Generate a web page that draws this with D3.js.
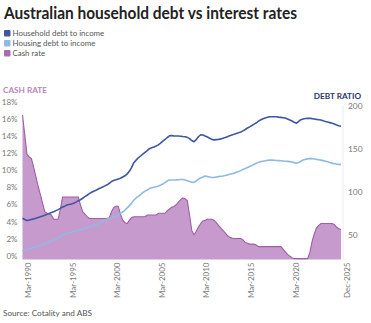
<!DOCTYPE html>
<html>
<head>
<meta charset="utf-8">
<script src="https://cdn.jsdelivr.net/npm/d3@7"></script>
<style>
  html, body { margin: 0; padding: 0; background: #fff; }
  svg { display: block; font-family: Lato, "Open Sans", sans-serif; }
</style>
</head>
<body>
<svg id="chart" width="371" height="323"></svg>
<script>
// Quarterly series, Mar-1990 to Dec-2025
const startYear = 1990;
const quarterMonths = ["Mar", "Jun", "Sep", "Dec"];

// Household debt to disposable income (%)
const householdDebt = [
  74.0, 72.5, 71.3, 71.8, 72.5, 73.2, 74.0, 74.8, 75.6, 76.5,
  77.5, 78.5, 79.6, 80.6, 81.6, 82.8, 84.0, 85.4, 87.0, 88.0,
  89.3, 90.0, 90.6, 91.4, 92.7, 94.1, 95.5, 97.2, 99.0, 100.7,
  102.6, 104.2, 105.4, 106.4, 107.9, 109.1, 110.3, 111.6, 112.8, 114.6,
  116.7, 118.0, 118.6, 119.6, 120.4, 121.9, 123.3, 125.5, 128.5, 133.0,
  138.5, 141.5, 144.2, 146.3, 148.5, 150.5, 152.5, 154.8, 155.9, 156.7,
  157.9, 159.2, 161.2, 163.5, 165.5, 167.8, 169.8, 170.0, 169.6, 169.5,
  169.5, 169.3, 168.9, 168.6, 168.0, 166.5, 164.3, 162.9, 165.4, 168.7,
  171.0, 170.8, 169.5, 168.3, 167.0, 165.6, 165.0, 165.3, 165.6, 166.2,
  166.9, 167.7, 168.8, 169.9, 170.8, 171.6, 172.5, 173.3, 174.2, 175.5,
  177.1, 178.8, 180.2, 181.8, 183.4, 184.9, 186.8, 188.4, 189.5, 190.5,
  191.3, 192.0, 192.0, 192.0, 192.0, 191.5, 191.2, 190.8, 190.4, 189.2,
  188.2, 187.0, 185.6, 184.4, 186.5, 188.5, 189.4, 189.8, 190.0, 190.1,
  189.7, 189.4, 188.9, 188.5, 188.1, 187.2, 186.4, 185.8, 185.1, 184.3,
  183.4, 182.4, 181.5, 180.8
];

// Housing debt to disposable income (%)
const housingDebt = [
  36.0, 36.8, 37.6, 38.6, 39.4, 40.1, 40.8, 41.5, 42.4, 43.4,
  44.4, 45.4, 46.4, 47.6, 48.8, 50.0, 51.3, 52.8, 54.2, 55.4,
  56.5, 57.3, 58.0, 58.7, 59.5, 60.0, 60.6, 61.4, 62.3, 63.2,
  64.1, 65.0, 65.8, 66.6, 67.4, 68.4, 70.3, 71.8, 73.0, 74.0,
  74.8, 75.3, 75.8, 77.5, 79.8, 81.2, 83.5, 86.0, 88.6, 91.5,
  95.0, 97.5, 99.5, 101.5, 103.7, 105.5, 106.8, 108.4, 109.3, 110.0,
  110.6, 111.4, 112.4, 113.8, 115.3, 117.4, 118.4, 118.4, 118.4, 118.5,
  118.7, 119.0, 119.0, 118.4, 117.5, 116.6, 115.8, 115.6, 117.2, 119.5,
  120.8, 121.9, 123.0, 122.5, 121.8, 121.3, 121.3, 121.8, 122.3, 122.7,
  123.1, 123.6, 124.3, 125.0, 125.7, 126.4, 127.3, 128.2, 129.3, 130.6,
  131.7, 132.9, 134.2, 135.3, 136.6, 137.8, 138.9, 139.8, 140.3, 140.8,
  141.2, 141.6, 141.5, 141.3, 141.1, 140.9, 140.7, 140.5, 140.2, 140.0,
  139.8, 139.3, 138.6, 137.9, 138.8, 140.2, 141.6, 142.4, 143.0, 143.5,
  143.3, 142.9, 142.4, 142.0, 141.5, 140.9, 140.2, 139.5, 138.7, 138.0,
  137.4, 136.9, 136.6, 136.3
];

// RBA cash rate (%)
const cashRate = [
  16.9, 14.6, 12.3, 12.0, 11.8, 10.8, 9.7, 8.6, 7.6, 6.6,
  5.6, 5.4, 5.3, 5.2, 4.7, 4.7, 4.7, 5.9, 7.3, 7.3,
  7.3, 7.3, 7.3, 7.3, 7.3, 7.3, 6.4, 5.6, 5.3, 5.0,
  4.8, 4.8, 4.8, 4.8, 4.8, 4.8, 4.8, 4.8, 4.8, 4.9,
  5.6, 6.1, 6.25, 6.2, 5.3, 4.6, 4.3, 4.2, 4.6, 4.9,
  5.0, 5.0, 5.0, 5.0, 5.0, 5.0, 5.2, 5.2, 5.2, 5.2,
  5.2, 5.4, 5.4, 5.4, 5.4, 5.7, 5.9, 6.1, 6.2, 6.4,
  6.7, 7.0, 7.2, 7.1, 6.9, 5.2, 3.4, 2.9, 3.3, 3.8,
  4.2, 4.5, 4.6, 4.7, 4.7, 4.7, 4.6, 4.3, 4.0, 3.7,
  3.4, 3.1, 2.8, 2.6, 2.5, 2.45, 2.45, 2.45, 2.45, 2.3,
  2.0, 1.9, 1.8, 1.8, 1.8, 1.7, 1.5, 1.5, 1.5, 1.5,
  1.5, 1.5, 1.5, 1.5, 1.5, 1.5, 1.5, 1.2, 0.9, 0.6,
  0.4, 0.2, 0.1, 0.1, 0.1, 0.1, 0.1, 0.1, 0.1, 0.8,
  2.1, 3.0, 3.7, 4.0, 4.2, 4.2, 4.2, 4.2, 4.2, 4.2,
  4.1, 3.8, 3.6, 3.5
];

// Axis ticks
const xTickLabels = ["Mar-1990", "Mar-1995", "Mar-2000", "Mar-2005", "Mar-2010", "Mar-2015", "Mar-2020", "Dec-2025"];
const leftTicks = [0, 2, 4, 6, 8, 10, 12, 14, 16, 18];
const rightTicks = [50, 100, 150, 200];

const seriesNames = ["Household debt to income", "Housing debt to income", "Cash rate"];
const colors = { household: "#3d56a3", housing: "#8db9e4", cashFill: "#c79acd", cashLine: "#9e5ea6", cashKey: "#a86bad" };

const quarterLabel = i => quarterMonths[i % 4] + "-" + (startYear + Math.floor(i / 4));
const n = cashRate.length;

const svg = d3.select("#chart");

const plot = { left: 22.5, right: 341, top: 105.5, bottom: 259.5 };

const x = d3.scaleLinear().domain([0, n - 1]).range([plot.left, plot.right]);
const yLeft = d3.scaleLinear().domain([0, 18]).range([plot.bottom, plot.top]);
const yRight = d3.scaleLinear().domain([26, 205]).range([plot.bottom, plot.top]);

// Title
svg.append("text")
  .attr("x", 4).attr("y", 18.5)
  .attr("font-size", 16.2).attr("font-weight", 700)
  .attr("fill", "#222")
  .attr("textLength", 293).attr("lengthAdjust", "spacingAndGlyphs")
  .text("Australian household debt vs interest rates");

// Legend
const legendKeys = [colors.household, colors.housing, colors.cashKey];
const legend = svg.append("g").attr("transform", "translate(4,30)");
seriesNames.forEach((name, k) => {
  const row = legend.append("g").attr("transform", `translate(0,${k * 10})`);
  row.append("rect").attr("width", 6.5).attr("height", 6.5).attr("rx", 1).attr("fill", legendKeys[k]);
  row.append("text").attr("x", 8.5).attr("y", 6.3)
    .attr("font-size", 7.9).attr("fill", "#555").text(name);
});

// Axis titles
svg.append("text").attr("x", 3).attr("y", 93)
  .attr("font-size", 8.2).attr("font-weight", 700).attr("fill", "#b387bd")
  .text("CASH RATE");
svg.append("text").attr("x", 361).attr("y", 98.5).attr("text-anchor", "end")
  .attr("font-size", 8.2).attr("font-weight", 700).attr("fill", "#2c3668")
  .text("DEBT RATIO");

// Right-hand axis rule
svg.append("line")
  .attr("x1", 343).attr("x2", 343).attr("y1", plot.top).attr("y2", plot.bottom)
  .attr("stroke", "#ececec").attr("stroke-width", 1);

// Cash rate area
const idx = d3.range(n);
const area = d3.area().x(i => x(i)).y0(plot.bottom).y1(i => yLeft(cashRate[i]));
svg.append("path").datum(idx).attr("d", area).attr("fill", colors.cashFill);
const cashLine = d3.line().x(i => x(i)).y(i => yLeft(cashRate[i]));
svg.append("path").datum(idx).attr("d", cashLine)
  .attr("fill", "none").attr("stroke", colors.cashLine).attr("stroke-width", 1.1);

// Debt ratio lines
const lineOf = arr => d3.line().x(i => x(i)).y(i => yRight(arr[i]));
svg.append("path").datum(idx).attr("d", lineOf(housingDebt))
  .attr("fill", "none").attr("stroke", colors.housing).attr("stroke-width", 1.6).attr("stroke-linejoin", "round");
svg.append("path").datum(idx).attr("d", lineOf(householdDebt))
  .attr("fill", "none").attr("stroke", colors.household).attr("stroke-width", 1.6).attr("stroke-linejoin", "round");

// Left axis
const gL = svg.append("g").attr("transform", `translate(${plot.left - 5},0)`)
  .call(d3.axisLeft(yLeft).tickValues(leftTicks).tickFormat(d => d + "%").tickSize(0).tickPadding(0));
gL.select(".domain").remove();
gL.selectAll("text").attr("dy", "-0.15em").attr("font-family", "Lato, sans-serif")
  .attr("font-size", 8).attr("fill", "#777");

// Right axis
const gR = svg.append("g").attr("transform", "translate(343,0)")
  .call(d3.axisRight(yRight).tickValues(rightTicks).tickSize(0).tickPadding(5));
gR.select(".domain").remove();
gR.selectAll("text").attr("dy", "-0.15em").attr("font-family", "Lato, sans-serif")
  .attr("font-size", 8.4).attr("fill", "#777");

// Bottom axis
const labelIndex = lbl => {
  const [m, yr] = lbl.split("-");
  return (+yr - startYear) * 4 + quarterMonths.indexOf(m);
};
const xTickIdx = xTickLabels.map(labelIndex);
const gB = svg.append("g").attr("transform", `translate(0,${plot.bottom})`)
  .call(d3.axisBottom(x).tickValues(xTickIdx).tickFormat(quarterLabel).tickSize(0));
gB.select(".domain").remove();
gB.selectAll("text")
  .attr("font-family", "Lato, sans-serif").attr("font-size", 8).attr("fill", "#777")
  .attr("text-anchor", "end")
  .attr("transform", "translate(5.5,3) rotate(-90)")
  .attr("x", 0).attr("y", 0).attr("dy", "0.35em");

// Source note
svg.append("text").attr("x", 3).attr("y", 316)
  .attr("font-size", 8.2).attr("fill", "#555")
  .text("Source: Cotality and ABS");
</script>
</body>
</html>
